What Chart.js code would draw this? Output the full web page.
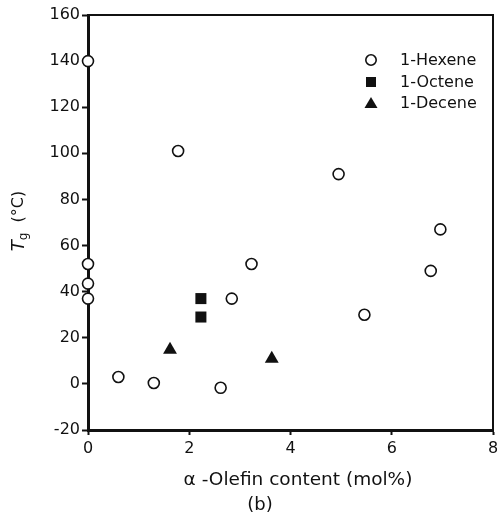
<!DOCTYPE html>
<html>
<head>
<meta charset="utf-8">
<script src="https://cdn.jsdelivr.net/npm/chart.js@4.4.1/dist/chart.umd.min.js"></script>
<style>
html,body{margin:0;padding:0;background:#fff;overflow:hidden;}
#wrap{width:505px;height:520px;}
</style>
</head>
<body>
<div id="wrap"><canvas id="tgChart" width="505" height="520"></canvas></div>
<script>
// Tg vs alpha-olefin content, panel (b)

const hexeneX = [0, 0, 0, 0, 0.6, 1.3, 1.78, 2.62, 2.84, 3.23, 4.95, 5.46, 6.77, 6.96];
const hexeneY = [140, 52, 43.5, 37, 3, 0.4, 101, -1.7, 37, 52, 91, 30, 49, 67];

const octeneX = [2.23, 2.23];
const octeneY = [37, 29];

const deceneX = [1.62, 3.63];
const deceneY = [14.8, 10.9];

const seriesNames = ["1-Hexene", "1-Octene", "1-Decene"];

const xTicks = [0, 2, 4, 6, 8];
const yTicks = [-20, 0, 20, 40, 60, 80, 100, 120, 140, 160];

const FONT = "'DejaVu Sans', Verdana, sans-serif";

function toPoints(xs, ys){
return xs.map((x, i) => ({ x: x, y: ys[i] }));
}

/* FRAME + TITLES + LEGEND */

const extras = {
id: "extras",
afterDraw(chart){
const ctx = chart.ctx;
const a = chart.chartArea;
ctx.save();

// top and right frame lines
ctx.strokeStyle = "#111";
ctx.lineWidth = 2;
ctx.beginPath();
ctx.moveTo(a.left, a.top);
ctx.lineTo(a.right, a.top);
ctx.lineTo(a.right, a.bottom);
ctx.stroke();

ctx.fillStyle = "#111";

// x title
ctx.font = "18.5px " + FONT;
ctx.textAlign = "center";
ctx.textBaseline = "middle";
ctx.fillText("\u03B1 -Olefin content (mol%)", 298, 480);

// panel label
ctx.font = "18px " + FONT;
ctx.fillText("(b)", 260, 505);

// y title, rotated
ctx.translate(19, 221);
ctx.rotate(-Math.PI / 2);
ctx.textAlign = "left";
const tFont = "italic 18px " + FONT;
const gFont = "12px " + FONT;
const restFont = "16px " + FONT;
ctx.font = tFont;
const tW = ctx.measureText("T").width;
ctx.font = gFont;
const gW = ctx.measureText("g").width;
ctx.font = restFont;
const rW = ctx.measureText("(\u00B0C)").width;
const gap = 10;
let x0 = -(tW + gW + gap + rW) / 2;
ctx.font = tFont;
ctx.fillText("T", x0, 0);
ctx.font = gFont;
ctx.fillText("g", x0 + tW, 5);
ctx.font = restFont;
ctx.fillText("(\u00B0C)", x0 + tW + gW + gap, 0);
ctx.setTransform(1, 0, 0, 1, 0, 0);

// legend
const rows = [60, 82, 103];
ctx.font = "16px " + FONT;
ctx.textAlign = "left";
ctx.textBaseline = "middle";
chart.data.datasets.forEach((ds, i) => {
const cx = 371, cy = rows[i];
ctx.lineWidth = ds.borderWidth;
ctx.strokeStyle = ds.borderColor;
ctx.fillStyle = ds.backgroundColor;
ctx.beginPath();
if(ds.pointStyle === "circle"){
ctx.arc(cx, cy, 5.2, 0, Math.PI * 2);
ctx.fill();
ctx.stroke();
}else if(ds.pointStyle === "rect"){
ctx.rect(cx - 5, cy - 5, 10, 10);
ctx.fill();
}else{
ctx.moveTo(cx, cy - 6);
ctx.lineTo(cx + 6.5, cy + 5);
ctx.lineTo(cx - 6.5, cy + 5);
ctx.closePath();
ctx.fill();
}
ctx.fillStyle = "#111";
ctx.fillText(ds.label, 400, cy + 1);
});

ctx.restore();
}
};

const ctx = document.getElementById("tgChart");

new Chart(ctx, {
type: "scatter",
data: {
datasets: [
{
label: seriesNames[0],
data: toPoints(hexeneX, hexeneY),
pointStyle: "circle",
pointRadius: 5.5,
pointHoverRadius: 5.5,
backgroundColor: "#fff",
borderColor: "#111",
borderWidth: 1.6,
clip: false
},
{
label: seriesNames[1],
data: toPoints(octeneX, octeneY),
pointStyle: "rect",
pointRadius: 7.8,
pointHoverRadius: 7.8,
backgroundColor: "#111",
borderColor: "#111",
borderWidth: 0,
clip: false
},
{
label: seriesNames[2],
data: toPoints(deceneX, deceneY),
pointStyle: "triangle",
pointRadius: 8,
pointHoverRadius: 8,
backgroundColor: "#111",
borderColor: "#111",
borderWidth: 0,
clip: false
}
]
},
options: {
responsive: false,
animation: false,
layout: {
padding: { left: 0, right: 12, top: 15, bottom: 0 }
},
plugins: {
legend: { display: false },
tooltip: { enabled: false }
},
scales: {
x: {
type: "linear",
min: 0,
max: 8,
afterBuildTicks(scale){
scale.ticks = xTicks.map(v => ({ value: v }));
},
afterFit(scale){
scale.height = 90;
},
border: { display: true, color: "#111", width: 3 },
grid: {
display: true,
drawOnChartArea: false,
drawTicks: true,
tickLength: 5,
tickWidth: 2,
color: "#111"
},
ticks: {
color: "#111",
padding: 4,
maxRotation: 0,
font: { family: FONT, size: 16 }
}
},
y: {
type: "linear",
min: -20,
max: 160,
afterBuildTicks(scale){
scale.ticks = yTicks.map(v => ({ value: v }));
},
afterFit(scale){
scale.width = 88;
},
border: { display: true, color: "#111", width: 3 },
grid: {
display: true,
drawOnChartArea: false,
drawTicks: true,
tickLength: 6,
tickWidth: 2,
color: "#111"
},
ticks: {
color: "#111",
padding: 2,
font: { family: FONT, size: 16 }
}
}
}
},
plugins: [extras]
});
</script>
</body>
</html>
